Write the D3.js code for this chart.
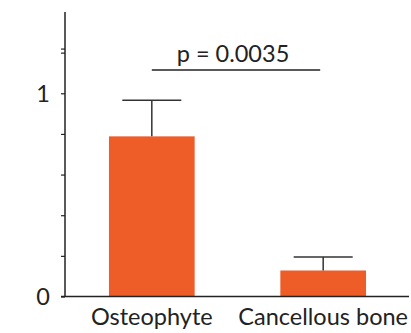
<!DOCTYPE html>
<html>
<head>
<meta charset="utf-8">
<script src="https://cdn.jsdelivr.net/npm/d3@7"></script>
<style>
  body { margin: 0; background: #fff; }
  text { font-family: Lato, "Open Sans", sans-serif; fill: #222; }
</style>
</head>
<body>
<div id="chart"></div>
<script>
var groups = ["Osteophyte", "Cancellous bone"];
var means = [0.788, 0.128];
var errors = [0.178, 0.066];
var yTicks = [0, 0.2, 0.4, 0.6, 0.8, 1, 1.2, 1.22];
var yLabels = [0, 1];
var pText = "p = 0.0035";

var svg = d3.select("#chart").append("svg")
            .attr("width", 411)
            .attr("height", 333);

var y = d3.scaleLinear().domain([0, 1.4]).range([296.5, 12]);
var x = d3.scaleBand().domain(groups).range([65, 410])
          .paddingInner(0.5).paddingOuter(0.2566);

// bars
svg.selectAll("rect.bar")
   .data(groups)
   .enter()
   .append("rect")
   .attr("class", "bar")
   .attr("x", function(d) { return x(d); })
   .attr("width", x.bandwidth())
   .attr("y", function(d, i) { return y(means[i]); })
   .attr("height", function(d, i) { return y(0) - y(means[i]); })
   .attr("fill", "#ee5c28");

// error bars (upper only)
var capW = 59;
groups.forEach(function(d, i) {
  var cx = x(d) + x.bandwidth() / 2;
  svg.append("line")
     .attr("x1", cx).attr("x2", cx)
     .attr("y1", y(means[i])).attr("y2", y(means[i] + errors[i]))
     .attr("stroke", "#333").attr("stroke-width", 1.5);
  svg.append("line")
     .attr("x1", cx - capW / 2).attr("x2", cx + capW / 2)
     .attr("y1", y(means[i] + errors[i])).attr("y2", y(means[i] + errors[i]))
     .attr("stroke", "#333").attr("stroke-width", 1.5);
});

// y axis
var yAxis = d3.axisLeft(y).tickValues(yTicks).tickSize(4)
              .tickFormat(function(d) { return ""; });
var gy = svg.append("g").attr("transform", "translate(65,0)").call(yAxis);
gy.select(".domain").attr("stroke", "#222").attr("stroke-width", 1.5)
  .attr("d", "M0," + y(1.4) + "V" + y(0));
gy.selectAll(".tick line").attr("stroke", "#222").attr("stroke-width", 1.2);

svg.selectAll("text.ylab")
   .data(yLabels)
   .enter()
   .append("text")
   .attr("class", "ylab")
   .attr("x", 50)
   .attr("y", function(d) { return y(d); })
   .attr("dy", "0.36em")
   .attr("text-anchor", "end")
   .style("font-size", "23.5px")
   .text(function(d) { return d; });

// x axis baseline
svg.append("line")
   .attr("x1", 61).attr("x2", 409)
   .attr("y1", y(0)).attr("y2", y(0))
   .attr("stroke", "#222").attr("stroke-width", 1.5);

svg.selectAll("text.xlab")
   .data(groups)
   .enter()
   .append("text")
   .attr("class", "xlab")
   .attr("x", function(d) { return x(d) + x.bandwidth() / 2; })
   .attr("y", 325)
   .attr("text-anchor", "middle")
   .style("font-size", "23.5px")
   .text(function(d) { return d; });

// significance bracket
var c0 = x(groups[0]) + x.bandwidth() / 2;
var c1 = x(groups[1]) + x.bandwidth() / 2;
svg.append("line")
   .attr("x1", c0).attr("x2", c1 - 3)
   .attr("y1", 70).attr("y2", 70)
   .attr("stroke", "#222").attr("stroke-width", 1.5);
svg.append("text")
   .attr("x", 233)
   .attr("y", 62)
   .attr("text-anchor", "middle")
   .style("font-size", "23.5px")
   .text(pText);
</script>
</body>
</html>
